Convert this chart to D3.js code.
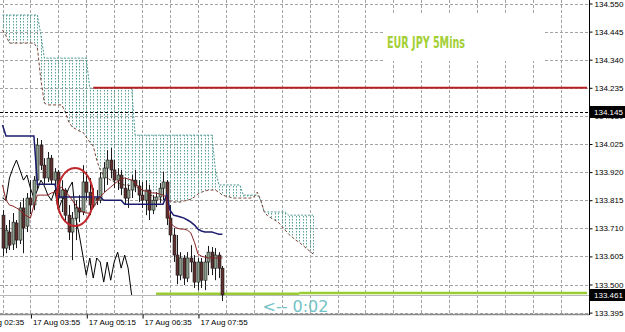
<!DOCTYPE html>
<html>
<head>
<meta charset="utf-8">
<script src="https://cdn.jsdelivr.net/npm/d3@7"></script>
<style>
  html, body { margin: 0; padding: 0; background: #fff; }
  svg { display: block; }
  .axis text { font-family: "Liberation Sans", Arial, sans-serif; font-size: 8px; fill: #000; }
</style>
</head>
<body>
<svg id="chart" width="625" height="332"></svg>
<script>
// EURJPY M5, 17 Aug, bars from 03:15 to 08:30
const priceTicks = [134.550, 134.445, 134.340, 134.235, 134.130, 134.025, 133.920, 133.815, 133.710, 133.605, 133.500, 133.395];
const timeTickBars = [-8, 8, 24, 40, 56];
const timeLabels = ["17 Aug 02:35", "17 Aug 03:55", "17 Aug 05:15", "17 Aug 06:35", "17 Aug 07:55"];
const gridBars = [0, 8, 16, 24, 32, 40, 48, 56, 64, 72, 80, 88, 96, 104, 112, 120, 128, 136, 144, 152, 160];

const opens = [
  133.759, 133.636, 133.696, 133.651, 133.730, 133.666, 133.786, 133.718, 133.823, 133.797,
  133.890, 134.021, 133.946, 133.898, 133.972, 133.890, 133.920, 133.823, 133.853, 133.759,
  133.696, 133.748, 133.786, 133.771, 133.883, 133.845, 133.797, 133.823, 133.815, 133.898,
  133.935, 133.965, 133.928, 133.890, 133.909, 133.860, 133.823, 133.853, 133.890, 133.868,
  133.834, 133.815, 133.853, 133.778, 133.815, 133.827, 133.860, 133.883, 133.748, 133.685,
  133.610, 133.535, 133.599, 133.524, 133.599, 133.584, 133.509, 133.584, 133.516, 133.584,
  133.621, 133.561, 133.610, 133.561];
const highs = [
  133.778, 133.722, 133.741, 133.767, 133.741, 133.808, 133.823, 133.842, 133.890, 133.905,
  134.047, 134.040, 133.972, 133.995, 133.984, 133.935, 133.928, 133.890, 133.860, 133.797,
  133.771, 133.815, 133.834, 133.946, 133.920, 133.898, 133.860, 133.853, 133.920, 133.958,
  134.002, 134.010, 133.965, 133.935, 133.928, 133.898, 133.872, 133.909, 133.928, 133.890,
  133.883, 133.890, 133.872, 133.834, 133.845, 133.879, 133.920, 133.890, 133.797, 133.711,
  133.685, 133.621, 133.610, 133.621, 133.647, 133.610, 133.599, 133.599, 133.610, 133.644,
  133.640, 133.636, 133.621, 133.569];
const lows = [
  133.606, 133.617, 133.629, 133.629, 133.636, 133.651, 133.617, 133.696, 133.763, 133.778,
  133.853, 133.928, 133.872, 133.883, 133.872, 133.845, 133.797, 133.771, 133.733, 133.666,
  133.591, 133.666, 133.733, 133.759, 133.815, 133.759, 133.786, 133.797, 133.804, 133.845,
  133.872, 133.898, 133.860, 133.853, 133.834, 133.797, 133.786, 133.823, 133.845, 133.808,
  133.786, 133.759, 133.741, 133.763, 133.789, 133.804, 133.815, 133.722, 133.658, 133.584,
  133.501, 133.516, 133.498, 133.509, 133.546, 133.487, 133.479, 133.487, 133.479, 133.535,
  133.535, 133.516, 133.524, 133.438];
const closes = [
  133.636, 133.703, 133.647, 133.733, 133.666, 133.786, 133.711, 133.823, 133.797, 133.890,
  134.021, 133.946, 133.898, 133.972, 133.890, 133.920, 133.823, 133.853, 133.759, 133.696,
  133.748, 133.786, 133.771, 133.883, 133.845, 133.797, 133.823, 133.815, 133.898, 133.935,
  133.965, 133.928, 133.890, 133.909, 133.860, 133.823, 133.853, 133.890, 133.868, 133.834,
  133.815, 133.853, 133.778, 133.815, 133.827, 133.860, 133.883, 133.748, 133.685, 133.610,
  133.535, 133.599, 133.524, 133.599, 133.584, 133.509, 133.584, 133.516, 133.584, 133.621,
  133.561, 133.610, 133.561, 133.461];

// ichimoku lines
const tenkan = [
  133.872, 133.815, 133.797, 133.793, 133.786, 133.778, 133.763, 133.756, 133.748, 133.797,
  133.834, 133.834, 133.834, 133.834, 133.842, 133.845, 133.857, 133.864, 133.845, 133.834,
  133.815, 133.797, 133.778, 133.771, 133.767, 133.767, 133.786, 133.808, 133.827, 133.842,
  133.853, 133.864, 133.875, 133.886, 133.894, 133.898, 133.894, 133.890, 133.879, 133.864,
  133.853, 133.849, 133.845, 133.842, 133.842, 133.838, 133.834, 133.827, 133.733, 133.718,
  133.711, 133.707, 133.707, 133.703, 133.692, 133.658, 133.614, 133.606, 133.602, 133.599,
  133.599, 133.599, 133.599, 133.599];
const kijun = [
  134.096, 134.055, 134.055, 134.055, 134.055, 134.055, 134.055, 134.055, 134.055, 134.055,
  133.875, 133.875, 133.875, 133.875, 133.875, 133.875, 133.827, 133.827, 133.827, 133.827,
  133.827, 133.827, 133.827, 133.827, 133.827, 133.827, 133.827, 133.827, 133.827, 133.815,
  133.815, 133.815, 133.815, 133.815, 133.815, 133.800, 133.800, 133.800, 133.800, 133.800,
  133.800, 133.800, 133.800, 133.800, 133.800, 133.800, 133.800, 133.834, 133.778, 133.759,
  133.756, 133.752, 133.748, 133.741, 133.733, 133.722, 133.707, 133.700, 133.696, 133.696,
  133.696, 133.692, 133.688, 133.688];
const spanA = [
  134.451, 134.429, 134.402, 134.402, 134.402, 134.402, 134.402, 134.402, 134.402, 134.402,
  134.384, 134.264, 134.178, 134.171, 134.171, 134.171, 134.171, 134.171, 134.144, 134.107,
  134.088, 134.081, 134.073, 134.070, 134.051, 134.032, 134.017, 133.965, 133.928, 133.905,
  133.898, 133.890, 133.883, 133.879, 133.875, 133.872, 133.872, 133.868, 133.864, 133.860,
  133.853, 133.845, 133.838, 133.830, 133.823, 133.819, 133.815, 133.815, 133.812, 133.808,
  133.808, 133.808, 133.812, 133.815, 133.819, 133.827, 133.838, 133.845, 133.849, 133.853,
  133.853, 133.853, 133.845, 133.834, 133.830, 133.827, 133.823, 133.823, 133.823, 133.823,
  133.823, 133.823, 133.827, 133.845, 133.815, 133.771, 133.756, 133.748, 133.741, 133.733,
  133.718, 133.703, 133.688, 133.677, 133.666, 133.658, 133.647, 133.636, 133.625, 133.614];
const spanB = [
  134.507, 134.507, 134.507, 134.507, 134.507, 134.507, 134.507, 134.507, 134.507, 134.507,
  134.507, 134.432, 134.346, 134.346, 134.346, 134.346, 134.346, 134.346, 134.346, 134.346,
  134.346, 134.346, 134.346, 134.346, 134.346, 134.234, 134.234, 134.234, 134.234, 134.234,
  134.234, 134.234, 134.234, 134.234, 134.234, 134.234, 134.234, 134.234, 134.058, 134.058,
  134.058, 134.058, 134.058, 134.058, 134.058, 134.058, 134.058, 134.058, 134.058, 134.058,
  134.058, 134.058, 134.058, 134.058, 134.058, 134.058, 134.058, 134.058, 134.058, 134.058,
  134.058, 133.928, 133.872, 133.872, 133.872, 133.872, 133.872, 133.872, 133.872, 133.834,
  133.834, 133.834, 133.834, 133.834, 133.815, 133.771, 133.771, 133.771, 133.771, 133.771,
  133.771, 133.771, 133.759, 133.759, 133.759, 133.759, 133.759, 133.759, 133.759, 133.759];
const chikouShift = 26;

// drawn objects
const dashedLevel = 134.145;
const bidLevel = 133.461;
const redLevel = { price: 134.235, fromBar: 26, toBar: 167.5 };
const greenSegments = [[44, 85, 133.465], [85, 167.5, 133.468]];
const markedPrices = [134.145, 133.461];
const circleNote = { bar: 20.8, price: 133.827, halfBars: 5.2, halfPrice: 0.108 };
const countdown = { bar: 74.5, price: 133.397, text: "<-- 0:02" };
const title = "EUR JPY 5Mins";

const plotW = 589, plotH = 314;
const svg = d3.select("#chart");

const x = d3.scaleLinear().domain([0, 160]).range([2.5, 560.9]);
const y = d3.scaleLinear().domain([133.395, 134.550]).range([312.6, 3.5]);
const px = v => Math.round(v) + 0.5;

svg.append("defs").append("clipPath").attr("id", "plot")
  .append("rect").attr("width", plotW).attr("height", plotH);

const plot = svg.append("g").attr("clip-path", "url(#plot)");

// grid
plot.append("g").selectAll("line").data(priceTicks).join("line")
  .attr("x1", 0).attr("x2", plotW)
  .attr("y1", d => px(y(d))).attr("y2", d => px(y(d)))
  .attr("stroke", "#a4a4a4").attr("stroke-dasharray", "3,2");
plot.append("g").selectAll("line").data(gridBars).join("line")
  .attr("x1", d => px(x(d))).attr("x2", d => px(x(d)))
  .attr("y1", 0).attr("y2", plotH)
  .attr("stroke", "#a4a4a4").attr("stroke-dasharray", "3,2");

// label background
plot.append("rect").attr("x", 385).attr("y", 13).attr("width", 158).attr("height", 48).attr("fill", "#fff");

// kumo hatch
plot.append("g").selectAll("line").data(spanA).join("line")
  .each(function (d, i) {
    const top = Math.min(y(d), y(spanB[i]));
    const bot = Math.max(y(d), y(spanB[i]));
    d3.select(this)
      .attr("x1", px(x(i))).attr("x2", px(x(i)))
      .attr("y1", top).attr("y2", bot)
      .attr("stroke-dashoffset", top % 3);
  })
  .attr("stroke", "#58a298").attr("stroke-dasharray", "1.5,1.5");

const lineIdx = d3.line().x((d, i) => x(i)).y(d => y(d));

plot.append("path").attr("d", lineIdx(spanB))
  .attr("fill", "none").attr("stroke", "#4c9a90").attr("stroke-dasharray", "2,1.5");
plot.append("path").attr("d", lineIdx(spanA))
  .attr("fill", "none").attr("stroke", "#7b4436").attr("stroke-dasharray", "3,2");

// levels
plot.append("line")
  .attr("x1", 0).attr("x2", plotW)
  .attr("y1", px(y(bidLevel))).attr("y2", px(y(bidLevel)))
  .attr("stroke", "#b8b8b8");
plot.append("line")
  .attr("x1", 0).attr("x2", plotW)
  .attr("y1", px(y(dashedLevel))).attr("y2", px(y(dashedLevel)))
  .attr("stroke", "#000").attr("stroke-dasharray", "3,2");
plot.append("line")
  .attr("x1", x(redLevel.fromBar)).attr("x2", x(redLevel.toBar))
  .attr("y1", y(redLevel.price)).attr("y2", y(redLevel.price))
  .attr("stroke", "#b3201f").attr("stroke-width", 2);
plot.append("g").selectAll("line").data(greenSegments).join("line")
  .attr("x1", d => x(d[0])).attr("x2", d => x(d[1]))
  .attr("y1", d => y(d[2])).attr("y2", d => y(d[2]))
  .attr("stroke", "#9acd32").attr("stroke-width", 2.5);

// chikou span
plot.append("path")
  .attr("d", lineIdx(closes.slice(chikouShift)))
  .attr("fill", "none").attr("stroke", "#000").attr("stroke-width", 1);

// candles
const candle = plot.append("g").selectAll("g").data(opens).join("g");
candle.append("line")
  .attr("x1", (d, i) => px(x(i))).attr("x2", (d, i) => px(x(i)))
  .attr("y1", (d, i) => y(highs[i])).attr("y2", (d, i) => y(lows[i]))
  .attr("stroke", "#1a1a1a");
candle.append("rect")
  .attr("x", (d, i) => px(x(i)) - 1.5)
  .attr("width", 3)
  .attr("y", (d, i) => y(Math.max(d, closes[i])))
  .attr("height", (d, i) => Math.max(1, Math.abs(y(d) - y(closes[i]))))
  .attr("fill", (d, i) => closes[i] >= d ? "#8c9c8a" : "#5e2f2f")
  .attr("stroke", "#1a1a1a").attr("stroke-width", 0.6);

// tenkan / kijun
plot.append("path").attr("d", lineIdx(kijun))
  .attr("fill", "none").attr("stroke", "#1c1c6e").attr("stroke-width", 1.5);
plot.append("path").attr("d", lineIdx(tenkan))
  .attr("fill", "none").attr("stroke", "#8b2323").attr("stroke-width", 1);

// circle marking
plot.append("ellipse")
  .attr("cx", x(circleNote.bar)).attr("cy", y(circleNote.price))
  .attr("rx", x(circleNote.bar + circleNote.halfBars) - x(circleNote.bar))
  .attr("ry", y(circleNote.price - circleNote.halfPrice) - y(circleNote.price))
  .attr("fill", "none").attr("stroke", "#c0262a").attr("stroke-width", 2);

// texts
plot.append("text")
  .attr("x", 387).attr("y", 48)
  .attr("textLength", 78).attr("lengthAdjust", "spacingAndGlyphs")
  .style("font-family", "'Liberation Sans Narrow', 'DejaVu Sans Condensed', sans-serif")
  .style("font-size", "16px").style("font-weight", "bold")
  .attr("fill", "#a2cf34")
  .text(title);
plot.append("text")
  .attr("x", x(countdown.bar)).attr("y", y(countdown.price))
  .style("font-family", "'DejaVu Sans', sans-serif").style("font-size", "16px")
  .attr("fill", "#74c2c6")
  .text(countdown.text);

// frame
svg.append("line").attr("x1", 0).attr("x2", plotW + 0.5).attr("y1", plotH + 0.5).attr("y2", plotH + 0.5)
  .attr("stroke", "#8a8a8a").attr("stroke-width", 1.5);
svg.append("line").attr("x1", plotW + 0.5).attr("x2", plotW + 0.5).attr("y1", 0).attr("y2", plotH + 1)
  .attr("stroke", "#000");

// price axis
const gy = svg.append("g").attr("class", "axis")
  .attr("transform", `translate(${plotW + 0.5},0)`)
  .call(d3.axisRight(y).tickValues(priceTicks).tickSize(3).tickPadding(2).tickFormat(d3.format(".3f")));
gy.select(".domain").remove();

const mark = svg.append("g").attr("class", "axis").selectAll("g").data(markedPrices).join("g")
  .attr("transform", d => `translate(${plotW + 1},${Math.round(y(d))})`);
mark.append("rect").attr("y", -6).attr("width", 35).attr("height", 12).attr("fill", "#000");
mark.append("text").attr("x", 4).attr("dy", "0.35em").attr("fill", "#fff")
  .style("fill", "#fff").text(d3.format(".3f"));

// time axis
const gx = svg.append("g").attr("class", "axis")
  .attr("transform", `translate(0,${plotH + 0.5})`)
  .call(d3.axisBottom(x).tickValues(timeTickBars).tickSize(4).tickPadding(1)
    .tickFormat((d, i) => timeLabels[i]));
gx.select(".domain").remove();
gx.selectAll(".tick line").attr("transform", "translate(0.5,0)");
gx.selectAll("text").attr("text-anchor", "start").attr("x", 2);
</script>
</body>
</html>
